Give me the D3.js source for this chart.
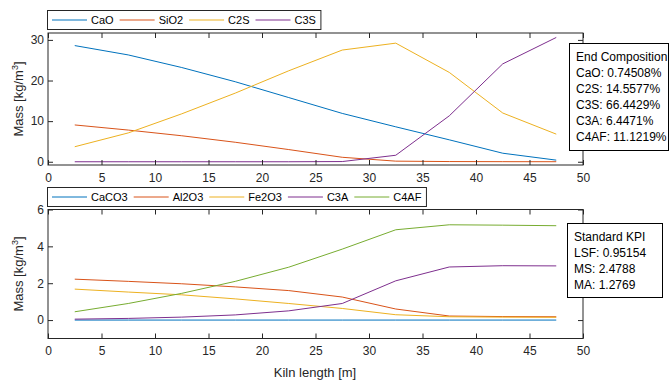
<!DOCTYPE html>
<html>
<head>
<meta charset="utf-8">
<script src="https://cdn.jsdelivr.net/npm/d3@7"></script>
<style>
  body { margin: 0; background: #fff; }
  svg { display: block; font-family: "Liberation Sans", Arial, sans-serif; }
</style>
</head>
<body>
<svg width="671" height="381"></svg>
<script>
// Положение вдоль печи (середины участков)
const kilnX = [2.5, 7.5, 12.5, 17.5, 22.5, 27.5, 32.5, 37.5, 42.5, 47.5];

// Верхний график
const topNames = ["CaO", "SiO2", "C2S", "C3S"];
const caO  = [28.6, 26.3, 23.2, 19.7, 15.8, 11.9, 8.6, 5.4, 2.1, 0.4];
const siO2 = [9.06, 7.8, 6.4, 4.8, 3.0, 1.1, 0.15, 0.05, 0.02, 0.01];
const c2S  = [3.7, 7.1, 11.8, 16.9, 22.4, 27.5, 29.2, 22.0, 12.0, 6.8];
const c3S  = [0, 0, 0, 0, 0, 0.05, 1.6, 11.3, 24.1, 30.6];
const topYTicks = [0, 10, 20, 30];

// Нижний график
const bottomNames = ["CaCO3", "Al2O3", "Fe2O3", "C3A", "C4AF"];
const caCO3 = [0, 0, 0, 0, 0, 0, 0, 0, 0, 0];
const al2O3 = [2.22, 2.1, 1.97, 1.8, 1.6, 1.25, 0.6, 0.22, 0.19, 0.18];
const fe2O3 = [1.68, 1.52, 1.37, 1.15, 0.9, 0.63, 0.29, 0.18, 0.16, 0.15];
const c3A   = [0.05, 0.09, 0.16, 0.28, 0.5, 0.9, 2.13, 2.88, 2.95, 2.94];
const c4AF  = [0.45, 0.9, 1.45, 2.1, 2.87, 3.85, 4.9, 5.17, 5.15, 5.12];
const bottomYTicks = [0, 2, 4, 6];

const xTicks = [0, 5, 10, 15, 20, 25, 30, 35, 40, 45, 50];

// Тексты в рамках
const endComposition = ["End Composition", "CaO: 0.74508%", "C2S: 14.5577%",
  "C3S: 66.4429%", "C3A: 6.4471%", "C4AF: 11.1219%"];
const standardKPI = ["Standard KPI", "LSF: 0.95154", "MS: 2.4788", "MA: 1.2769"];

const colors = ["#0072BD", "#D95319", "#EDB120", "#7E2F8E", "#77AC30"];
const axisColor = "#262626";

const svg = d3.select("svg");

function drawPanel(cfg) {
  const x = d3.scaleLinear().domain([0, 50]).range([48, 583]);
  const y = d3.scaleLinear().domain(cfg.yDomain).range([cfg.bottom, cfg.top]);
  const g = svg.append("g");

  // Линии данных
  const line = d3.line().x((d, i) => x(kilnX[i])).y(d => y(d));
  cfg.series.forEach((s, k) => {
    g.append("path")
      .attr("d", line(s))
      .style("fill", "none")
      .style("stroke", colors[k])
      .style("stroke-width", 1);
  });

  // Рамка осей
  g.append("rect")
    .attr("x", x(0)).attr("y", cfg.top)
    .attr("width", x(50) - x(0)).attr("height", cfg.bottom - cfg.top)
    .attr("fill", "none").attr("stroke", axisColor).attr("stroke-width", 1);

  // Оси: тики внутрь, подписи снаружи
  const tl = 5;
  const fmt = d3.format("d");
  const xb = g.append("g").attr("transform", `translate(0,${cfg.bottom})`)
    .call(d3.axisBottom(x).tickValues(xTicks).tickFormat(fmt).tickSizeInner(-tl).tickSizeOuter(0).tickPadding(8));
  const xt = g.append("g").attr("transform", `translate(0,${cfg.top})`)
    .call(d3.axisTop(x).tickValues(xTicks).tickSizeInner(-tl).tickSizeOuter(0).tickFormat(""));
  const yl = g.append("g").attr("transform", `translate(${x(0)},0)`)
    .call(d3.axisLeft(y).tickValues(cfg.yTicks).tickFormat(fmt).tickSizeInner(-tl).tickSizeOuter(0).tickPadding(4));
  const yr = g.append("g").attr("transform", `translate(${x(50)},0)`)
    .call(d3.axisRight(y).tickValues(cfg.yTicks).tickSizeInner(-tl).tickSizeOuter(0).tickFormat(""));
  [xb, xt, yl, yr].forEach(a => {
    a.select(".domain").remove();
    a.selectAll(".tick line").attr("stroke", axisColor);
    a.selectAll(".tick text").attr("fill", axisColor).style("font-size", "12px")
      .style("font-family", "'Liberation Sans', Arial, sans-serif");
  });

  // Подпись оси Y
  const cy = (cfg.top + cfg.bottom) / 2;
  const yLabel = g.append("text")
    .attr("transform", `translate(23,${cy}) rotate(-90)`)
    .attr("text-anchor", "middle")
    .attr("fill", axisColor)
    .style("font-size", "13px");
  yLabel.append("tspan").text("Mass [kg/m");
  yLabel.append("tspan").attr("dy", -5).style("font-size", "9px").text("3");
  yLabel.append("tspan").attr("dy", 5).text("]");

  // Легенда
  const lg = g.append("g");
  const box = lg.append("rect")
    .attr("x", 47.5).attr("y", cfg.legendY + 0.5)
    .attr("height", 19)
    .attr("fill", "#fff").attr("stroke", axisColor).attr("stroke-width", 1);
  let cx = 52;
  const ly = cfg.legendY + 10;
  cfg.names.forEach((n, k) => {
    lg.append("path")
      .attr("d", `M${cx},${ly}H${cx + 35}`)
      .style("fill", "none")
      .style("stroke", colors[k])
      .style("stroke-width", 1);
    const t = lg.append("text")
      .attr("x", cx + 39).attr("y", ly + 4)
      .attr("fill", "#000")
      .style("font-size", "11px")
      .text(n);
    const w = t.node().getComputedTextLength();
    cx = cx + 39 + w + (k < cfg.names.length - 1 ? 6 : 5);
  });
  box.attr("width", cx - 47.5);

  // Рамка с текстом справа
  const ab = cfg.annot;
  g.append("rect")
    .attr("x", ab.x).attr("y", ab.y).attr("width", ab.w).attr("height", ab.h)
    .attr("fill", "#fff").attr("stroke", "#000").attr("stroke-width", 1);
  ab.lines.forEach((s, i) => {
    g.append("text")
      .attr("x", ab.x + 6.5).attr("y", ab.y + 17.5 + i * 16)
      .attr("fill", "#000")
      .style("font-size", "12px")
      .text(s);
  });

  return x;
}

drawPanel({
  top: 33, bottom: 165, yDomain: [-0.8, 31.7], yTicks: topYTicks,
  series: [caO, siO2, c2S, c3S], names: topNames, legendY: 10,
  annot: {x: 569.5, y: 43.5, w: 99, h: 107, lines: endComposition}
});

drawPanel({
  top: 209.5, bottom: 338.5, yDomain: [-1, 6], yTicks: bottomYTicks,
  series: [caCO3, al2O3, fe2O3, c3A, c4AF], names: bottomNames, legendY: 187,
  annot: {x: 567.5, y: 223.5, w: 95, h: 74, lines: standardKPI}
});

// Подпись оси X
svg.append("text")
  .attr("x", 315).attr("y", 377)
  .attr("text-anchor", "middle")
  .attr("fill", axisColor)
  .style("font-size", "13px")
  .text("Kiln length [m]");
</script>
</body>
</html>
